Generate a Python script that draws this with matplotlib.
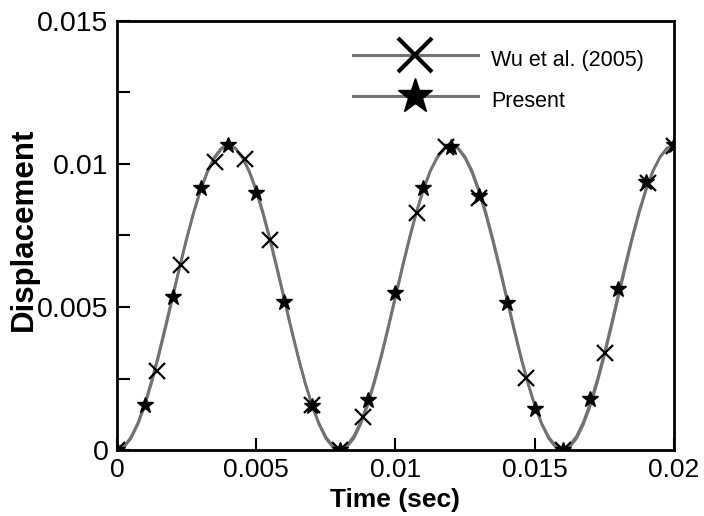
import matplotlib.pyplot as plt
from matplotlib.lines import Line2D

plt.rcParams['font.family'] = ['Liberation Sans', 'DejaVu Sans']

# marker data
t_wu = [0, 0.00143, 0.00229, 0.00352, 0.0046, 0.00549, 0.007, 0.008, 0.00885,
        0.01076, 0.0118, 0.013, 0.01469, 0.016, 0.01752, 0.01908, 0.02]
d_wu = [0, 0.00277, 0.00647, 0.01008, 0.01016, 0.00734, 0.00157, 0, 0.00116,
        0.0083, 0.0106, 0.0088, 0.00251, 0, 0.00338, 0.00932, 0.01063]

t_present = [0, 0.001, 0.002, 0.003, 0.004, 0.005, 0.006, 0.007, 0.008, 0.009, 0.01,
             0.011, 0.012, 0.013, 0.014, 0.015, 0.016, 0.017, 0.018, 0.019, 0.02]
d_present = [0, 0.00157, 0.00536, 0.00915, 0.01066, 0.00897, 0.00519, 0.00153, 0,
             0.00175, 0.0055, 0.00917, 0.0106, 0.00888, 0.00513, 0.00142, 0,
             0.00177, 0.00562, 0.00938, 0.01066]

# smooth curves (gray lines), time in ms
t_line_ms = [0, 0.25, 0.5, 0.75, 1, 1.25, 1.5, 1.75, 2, 2.25, 2.5, 2.75, 3, 3.25, 3.5, 3.75,
             4, 4.25, 4.5, 4.75, 5, 5.25, 5.5, 5.75, 6, 6.25, 6.5, 6.75, 7, 7.25, 7.5, 7.75,
             8, 8.25, 8.5, 8.75, 9, 9.25, 9.5, 9.75, 10, 10.25, 10.5, 10.75, 11, 11.25, 11.5, 11.75,
             12, 12.25, 12.5, 12.75, 13, 13.25, 13.5, 13.75, 14, 14.25, 14.5, 14.75, 15, 15.25, 15.5, 15.75,
             16, 16.25, 16.5, 16.75, 17, 17.25, 17.5, 17.75, 18, 18.25, 18.5, 18.75, 19, 19.25, 19.5, 19.75,
             20]
d_line_present = [0, 0.0001, 0.0004, 0.0009, 0.00156, 0.00237, 0.00329, 0.00429,
                  0.00533, 0.00637, 0.00737, 0.00829, 0.0091, 0.00976, 0.01025, 0.01056,
                  0.01066, 0.01056, 0.01025, 0.00976, 0.0091, 0.00829, 0.00737, 0.00637,
                  0.00533, 0.00429, 0.00329, 0.00237, 0.00156, 0.0009, 0.0004, 0.0001,
                  0, 0.0001, 0.0004, 0.0009, 0.00156, 0.00237, 0.00329, 0.00429,
                  0.00533, 0.00637, 0.00737, 0.00829, 0.0091, 0.00976, 0.01025, 0.01056,
                  0.01066, 0.01056, 0.01025, 0.00976, 0.0091, 0.00829, 0.00737, 0.00637,
                  0.00533, 0.00429, 0.00329, 0.00237, 0.00156, 0.0009, 0.0004, 0.0001,
                  0, 0.0001, 0.0004, 0.0009, 0.00156, 0.00237, 0.00329, 0.00429,
                  0.00533, 0.00637, 0.00737, 0.00829, 0.0091, 0.00976, 0.01025, 0.01056,
                  0.01066]
d_line_wu = [0, 0.00012, 0.00045, 0.00095, 0.00162, 0.00245, 0.00338, 0.00438,
             0.0054, 0.00642, 0.0074, 0.0083, 0.00908, 0.00972, 0.0102, 0.01052,
             0.01064, 0.01054, 0.01022, 0.00972, 0.00905, 0.00822, 0.0073, 0.0063,
             0.00527, 0.00424, 0.00326, 0.00236, 0.00158, 0.00094, 0.00046, 0.00014,
             0.00003, 0.00016, 0.00048, 0.00098, 0.00163, 0.00245, 0.00336, 0.00436,
             0.0054, 0.00643, 0.00742, 0.00832, 0.00911, 0.00975, 0.01022, 0.01052,
             0.01063, 0.01053, 0.0102, 0.00969, 0.00902, 0.0082, 0.00728, 0.00628,
             0.00525, 0.00422, 0.00323, 0.00234, 0.00156, 0.00093, 0.00046, 0.00014,
             0.00003, 0.00016, 0.00048, 0.00099, 0.00165, 0.00248, 0.0034, 0.0044,
             0.00545, 0.00648, 0.00746, 0.00836, 0.00914, 0.00977, 0.01024, 0.01053,
             0.01064]

line_color = '#727272'

fig = plt.figure(figsize=(7.04, 5.16), dpi=100)
ax = fig.add_axes([117 / 704, 1 - 450 / 516, (674 - 117) / 704, (450 - 21) / 516])

t_line = [v / 1000 for v in t_line_ms]
ax.plot(t_line, d_line_wu, color=line_color, lw=1.9, zorder=2)
ax.plot(t_line, d_line_present, color=line_color, lw=1.9, zorder=2)
ax.plot(t_wu, d_wu, linestyle='none', marker='x', ms=12, mew=1.6, color='black', zorder=3)
ax.plot(t_present, d_present, linestyle='none', marker='*', ms=12, color='black', zorder=4)

ax.set_xlim(0, 0.02)
ax.set_ylim(0, 0.015)
ax.set_xticks([0, 0.005, 0.01, 0.015, 0.02])
ax.set_xticklabels(['0', '0.005', '0.01', '0.015', '0.02'])
ax.set_yticks([0, 0.0025, 0.005, 0.0075, 0.01, 0.0125, 0.015])
ax.set_yticklabels(['0', '', '0.005', '', '0.01', '', '0.015'])
ax.tick_params(direction='in', length=9, width=1.5, pad=6)
ax.tick_params(axis='x', labelsize=19)
ax.tick_params(axis='y', labelsize=20.5)
for s in ax.spines.values():
    s.set_linewidth(2)

ax.set_xlabel('Time (sec)', fontsize=19, fontweight='bold', labelpad=4)
ax.set_ylabel('Displacement', fontsize=22.5, fontweight='bold')
ax.yaxis.set_label_coords(-0.14, 0.515)

handles = [
    Line2D([], [], color=line_color, lw=2.2, marker='x', ms=24, mew=3, mec='black'),
    Line2D([], [], color=line_color, lw=2.2, marker='*', ms=26, mfc='black', mec='black'),
]
fig.legend(handles, ['Wu et al. (2005)', 'Present'], loc='upper left',
           bbox_to_anchor=(353 / 704, 1 - 43 / 516), frameon=False, fontsize=15.5,
           handlelength=5.8, handleheight=2.0, handletextpad=0.6,
           labelspacing=0.35, borderpad=0, borderaxespad=0)

fig.savefig('out.png', dpi=100)
